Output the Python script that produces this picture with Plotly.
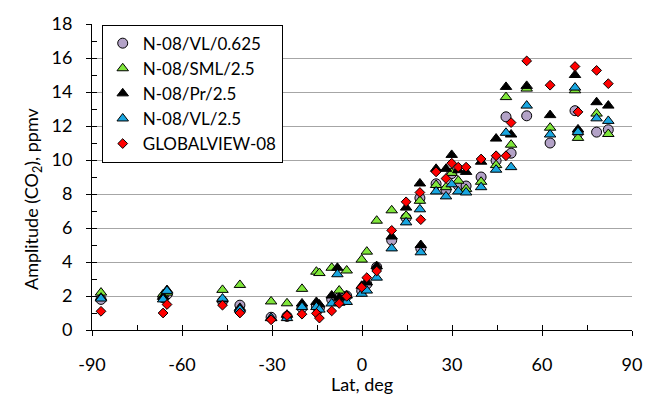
import plotly.graph_objects as go

# Latitude of each station (deg)
lat = [-87, -66.3, -65, -46.5, -40.7, -30.3, -25, -20, -15.2, -14.2, -10.1, -8.2, -7.6, -5.1,
       -0.1, 1.6, 4.9, 9.9, 14.7, 19.3, 19.6, 24.7, 28, 29.9, 32.1, 34.7, 39.7, 44.7, 48, 49.7,
       54.9, 62.7, 71, 72, 78.2, 82.1]

# Seasonal amplitude of CO2 (ppmv)
vl_0625 = [1.8, 1.9, 2.1, 1.7, 1.46, 0.75, 0.8, 1.3, 1.4, 1.3, 1.8, None, 1.9, 2.0,
           2.3, 2.7, 3.7, 5.28, 6.6, 7.76, 4.8, 8.6, 8.24, 9.2, 8.5, 8.47, 9.0, 9.96, 12.54, 10.4,
           12.6, 11.0, 12.9, 11.6, 11.64, 11.78]
sml_25 = [2.2, 2.1, 2.2, 2.36, 2.65, 1.68, 1.57, 2.42, 3.43, 3.35, 3.66, None, 2.32, 3.5,
          4.14, 4.61, 6.43, 7.04, 6.72, 7.6, None, 8.53, 8.4, 9.24, 8.78, 8.3, 8.72, 9.7, 13.7, 10.9,
          14.2, 11.9, 14.1, 11.3, 12.73, 11.53]
pr_25 = [1.9, 1.95, 2.35, 1.8, 1.3, 0.7, 0.9, 1.56, 1.65, 1.5, 2.03, 3.66, 1.9, 2.03,
         2.6, 2.8, 3.75, 5.5, 7.2, 8.62, 5.0, 9.48, 9.48, 10.3, 9.4, 9.3, 9.9, 11.26, 14.3, 11.5,
         14.36, 12.64, 15.0, 11.8, 13.4, 13.2]
vl_25 = [1.85, 1.8, 2.3, 1.85, 1.2, 0.7, 0.7, 1.35, 1.35, 1.2, 1.56, 3.28, 1.6, 1.65,
         2.13, 2.32, 3.08, 4.8, 6.33, 7.1, 4.57, 8.15, 7.86, 8.57, 8.15, 8.09, 8.4, 9.43, 11.6, 9.58,
         13.2, 11.5, 14.26, 11.64, 12.45, 12.3]
globalview = [1.1, 1.0, 1.5, 1.46, 1.0, 0.6, 0.85, 0.93, 0.98, 0.7, 1.12, None, 1.56, 1.98,
              2.51, 3.08, 3.47, 5.86, 7.54, 8.09, 6.49, 9.3, 8.91, 9.81, 9.58, 9.58, 10.06, 10.25, 10.25, 12.2,
              15.83, 14.4, 15.5, 12.83, 15.27, 14.49]

series_names = ["N-08/VL/0.625", "N-08/SML/2.5", "N-08/Pr/2.5", "N-08/VL/2.5", "GLOBALVIEW-08"]
series_vals = [vl_0625, sml_25, pr_25, vl_25, globalview]

x_tickvals = [-90, -60, -30, 0, 30, 60, 90]
x_ticktext = ["-90", "-60", "-30", "0", "30", "60", "90"]
y_tickvals = [0, 2, 4, 6, 8, 10, 12, 14, 16, 18]

symbols = ["circle", "triangle-up", "triangle-up", "triangle-up", "diamond"]
colors = ["#B3A2C7", "#7FE63A", "#000000", "#18A6E0", "#FF0000"]
sizes = [10, 10, 10, 10, 7.5]

FONT = "Lato"
FS = 18

fig = go.Figure()
for name, vals, sym, col, sz in zip(series_names, series_vals, symbols, colors, sizes):
    fig.add_trace(go.Scatter(
        x=lat, y=vals, mode="markers", name=name,
        marker=dict(symbol=sym, color=col, size=sz, line=dict(color="black", width=1)),
    ))

# helper trace for the minor-tick overlay axes
fig.add_trace(go.Scatter(x=[0], y=[0], xaxis="x2", yaxis="y2", mode="markers",
                         marker=dict(opacity=0), showlegend=False, hoverinfo="skip"))

fig.update_layout(
    width=654, height=396,
    margin=dict(l=92, r=22, t=16, b=66),
    paper_bgcolor="white", plot_bgcolor="white",
    font=dict(family=FONT, size=FS, color="black"),
    showlegend=True,
    legend=dict(x=0.018, y=0.998, xanchor="left", yanchor="top",
                bordercolor="black", borderwidth=1, bgcolor="white",
                font=dict(family=FONT, size=17, color="black"), tracegroupgap=0),
    xaxis=dict(range=[-90, 90], tickvals=x_tickvals, ticktext=x_ticktext,
               ticks="outside", ticklen=5,
               tickcolor="black", showline=True, linecolor="black", linewidth=1,
               showgrid=False, zeroline=False, tickfont=dict(size=FS),
               ticklabelstandoff=13),
    yaxis=dict(range=[0, 18], tickvals=y_tickvals, ticks="outside", ticklen=5,
               tickcolor="black", showline=True, linecolor="black", linewidth=1,
               showgrid=True, gridcolor="#A6A6A6", gridwidth=1, zeroline=False,
               tickfont=dict(size=FS), ticklabelstandoff=10),
    xaxis2=dict(overlaying="x", anchor="y2", range=[-90, 90], tick0=-90, dtick=15,
                ticks="inside", ticklen=5, tickcolor="black", showticklabels=False,
                showgrid=False, zeroline=False, showline=False),
    yaxis2=dict(overlaying="y", anchor="x2", side="left", range=[0, 18], tick0=0, dtick=1,
                ticks="inside", ticklen=5, tickcolor="black", showticklabels=False,
                showgrid=False, zeroline=False, showline=False),
    annotations=[
        dict(text="Lat, deg", xref="paper", yref="paper", x=0.5, y=-0.176,
             xanchor="center", yanchor="middle", showarrow=False,
             font=dict(family=FONT, size=FS)),
        dict(text="Amplitude (CO<sub>2</sub>), ppmv", xref="paper", yref="paper",
             x=-0.11, y=0.43, xanchor="center", yanchor="middle", textangle=-90,
             showarrow=False, font=dict(family=FONT, size=FS)),
    ],
)

fig.write_html("out.html")
